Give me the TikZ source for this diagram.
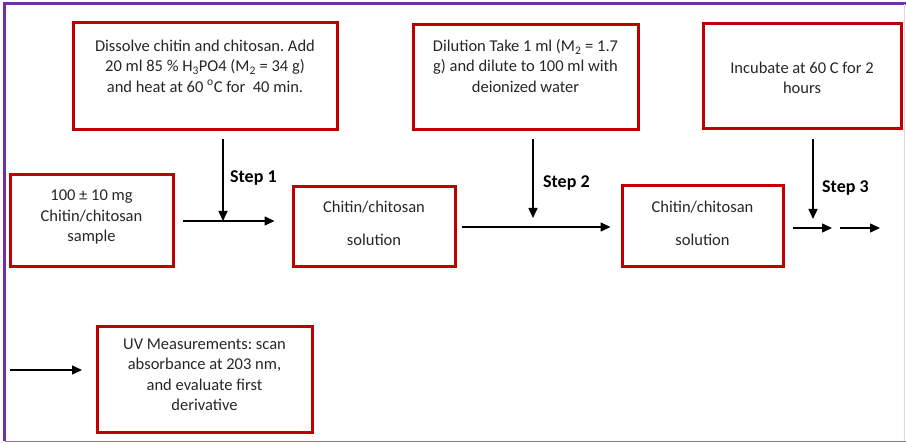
\documentclass[tikz,border=0pt]{standalone}
\usepackage{fontspec}
\setmainfont{Carlito}
\usetikzlibrary{arrows.meta}
\definecolor{boxred}{HTML}{C00000}
\definecolor{framepurple}{HTML}{7030A0}
\frenchspacing
\begin{document}
\begin{tikzpicture}[x=1pt,y=-1pt,
  box/.style={draw=boxred,line width=3pt,inner sep=0pt},
  txt/.style={align=center,font=\fontsize{16.5}{20.5}\selectfont,text=black!85,inner sep=0pt},
  steplbl/.style={font=\bfseries\fontsize{18}{20}\selectfont,inner sep=0pt,anchor=west},
  arr/.style={line width=1.5pt,-{Triangle[length=10pt,width=9pt]}}]
\useasboundingbox (0,0) rectangle (906,443);
% frame
\draw[framepurple,line width=3pt] (4.5,441) -- (4.5,4) -- (906,4);
\draw[framepurple!70,line width=1pt] (4.5,441.5) -- (906,441.5);
\draw[framepurple!20,line width=1pt] (904.5,4) -- (904.5,441);
% boxes
\node[box,minimum width=264pt,minimum height=107pt] (A) at (205,76.5) {};
\node[box,minimum width=225pt,minimum height=105pt] (B) at (525.5,77.5) {};
\node[box,minimum width=198pt,minimum height=105pt] (C) at (802,76.5) {};
\node[box,minimum width=163pt,minimum height=92pt] (D) at (91.5,221) {};
\node[box,minimum width=162pt,minimum height=80pt] (E) at (374,227) {};
\node[box,minimum width=161pt,minimum height=81pt] (F) at (702.5,226.5) {};
\node[box,minimum width=215pt,minimum height=106pt] (G) at (204.5,380) {};
% texts
\node[txt] (At) at (205,66) {Dissolve chitin and chitosan. Add\\20 ml 85 \% H\textsubscript{3}PO4 (M\textsubscript{2} = 34 g)\\and heat at 60 \textsuperscript{o}C for\ \ 40 min.};
\node[txt] (Bt) at (525.5,66) {Dilution Take 1 ml (M\textsubscript{2} = 1.7\\g) and dilute to 100 ml with\\deionized water};
\node[txt] (Ct) at (802,78) {Incubate at 60 C for 2\\hours};
\node[txt] (Dt) at (91.5,217) {100 ± 10 mg\\Chitin/chitosan\\sample};
\node[txt,font=\fontsize{16.5}{33}\selectfont] (Et) at (374,223.5) {Chitin/chitosan\\solution};
\node[txt,font=\fontsize{16.5}{33}\selectfont] (Ft) at (702.5,223.5) {Chitin/chitosan\\solution};
\node[txt] (Gt) at (204.5,375) {UV Measurements: scan\\absorbance at 203 nm,\\and evaluate first\\derivative};
% step labels
\node[steplbl] (S1) at (230,178) {Step 1};
\node[steplbl] (S2) at (543,183) {Step 2};
\node[steplbl] (S3) at (822,188) {Step 3};
% coordinates for free ends
\coordinate (v1) at (223,139);
\coordinate (v2) at (533,139);
\coordinate (v3) at (813,139);
\coordinate (h1s) at (183,221);
\coordinate (h2s) at (462,227);
\coordinate (h3s) at (793,228);
\coordinate (h3e) at (832,228);
\coordinate (h4s) at (840,228);
\coordinate (h4e) at (880,228);
\coordinate (h5s) at (10,370);
\coordinate (h5e) at (82,370);
% connectors
\draw[arr] (h1s) -- ([xshift=-17pt]E.west |- h1s);
\draw[arr] (v1) -- (v1 |- h1s);
\draw[arr] (h2s) -- ([xshift=-10pt]F.west |- h2s);
\draw[arr] (v2) -- (533,218);
\draw[arr] (v3) -- (813,219);
\draw[arr] (h3s) -- (h3e);
\draw[arr] (h4s) -- (h4e);
\draw[arr] (h5s) -- (h5e);
\end{tikzpicture}
\end{document}
